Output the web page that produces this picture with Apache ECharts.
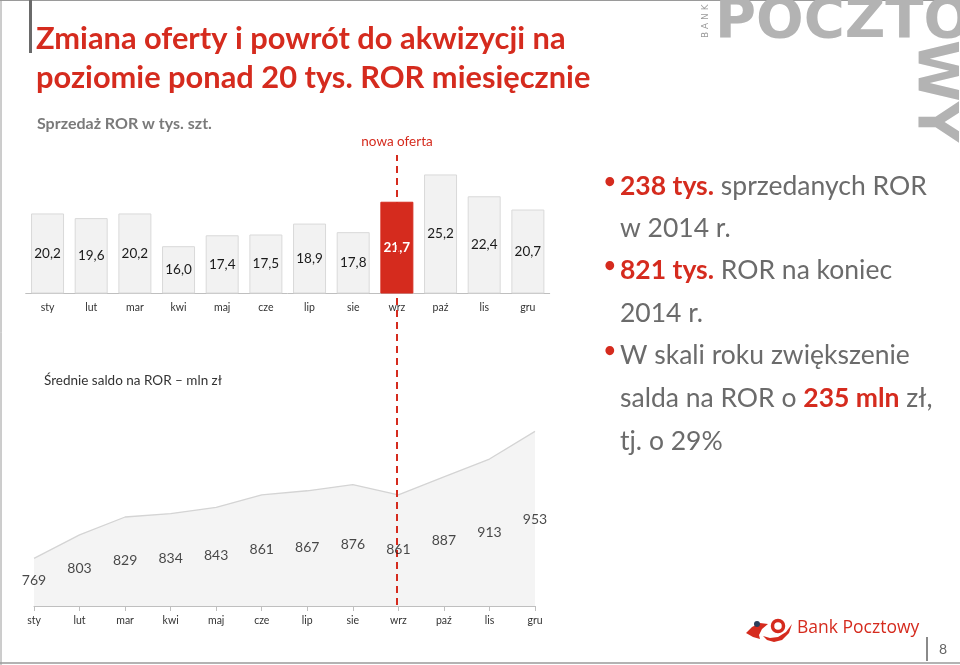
<!DOCTYPE html>
<html><head><meta charset="utf-8">
<script src="https://cdn.jsdelivr.net/npm/echarts@6/dist/echarts.min.js"></script>
<style>html,body{margin:0;padding:0;background:#fff}#c{width:960px;height:665px}</style>
</head><body><div id="c"></div>
<script>
const months = ['sty','lut','mar','kwi','maj','cze','lip','sie','wrz','paź','lis','gru'];
const salesValues = [20.2,19.6,20.2,16.0,17.4,17.5,18.9,17.8,21.7,25.2,22.4,20.7];
const balanceValues = [769,803,829,834,843,861,867,876,861,887,913,953];
const highlightMonth = 'wrz';

const RED = '#d52b1e';
const FONT = 'Lato, "Open Sans", sans-serif';
const fmt1 = v => v.toFixed(1).replace('.', ',');

const chart = echarts.init(document.getElementById('c'), null, {renderer: 'canvas'});

const barData = salesValues.map((v, i) => months[i] === highlightMonth ? {
  value: v,
  itemStyle: {color: RED, borderColor: RED},
  label: {color: '#fff', fontWeight: 'bold'}
} : v);

const catAxisStyle = {
  axisLine: {lineStyle: {color: '#bfbfbf', width: 1}},
  axisTick: {lineStyle: {color: '#bfbfbf'}, length: 4},
  axisLabel: {color: '#333', fontSize: 10.5, fontFamily: FONT}
};

const option = {
  animation: false,
  grid: [
    {left: 25.7, width: 524, top: 137, height: 156},
    {left: 34, width: 501, top: 399, height: 207},
    {left: 25.7, width: 524, top: 155, height: 450}
  ],
  xAxis: [
    Object.assign({type: 'category', gridIndex: 0, data: months, boundaryGap: true}, catAxisStyle,
      {axisLabel: Object.assign({}, catAxisStyle.axisLabel, {margin: 9})}),
    Object.assign({type: 'category', gridIndex: 1, data: months, boundaryGap: false}, catAxisStyle,
      {axisTick: {lineStyle: {color: '#bfbfbf'}, length: 5, alignWithLabel: true},
       axisLabel: Object.assign({}, catAxisStyle.axisLabel, {margin: 9})}),
    {type: 'category', gridIndex: 2, data: months, boundaryGap: true, show: false}
  ],
  yAxis: [
    {type: 'value', gridIndex: 0, min: 10, max: 30, show: false},
    {type: 'value', gridIndex: 1, min: 700, max: 1000, show: false},
    {type: 'value', gridIndex: 1, min: 690.6, max: 1315, show: false},
    {type: 'value', gridIndex: 2, min: 0, max: 1, show: false}
  ],
  series: [
    {
      type: 'bar', xAxisIndex: 0, yAxisIndex: 0, data: barData, barWidth: 33,
      itemStyle: {color: '#f2f2f2', borderColor: '#d9d9d9', borderWidth: 1},
      label: {show: true, position: 'inside', formatter: p => fmt1(p.value),
              color: '#1a1a1a', fontSize: 13.5, fontFamily: FONT}
    },
    {
      type: 'line', xAxisIndex: 1, yAxisIndex: 1, data: balanceValues, symbol: 'none',
      lineStyle: {color: '#d4d4d4', width: 1.3},
      areaStyle: {color: '#f4f4f4', opacity: 1}
    },
    {
      type: 'scatter', xAxisIndex: 1, yAxisIndex: 2, data: balanceValues, symbolSize: 2, z: 5,
      itemStyle: {color: 'rgba(0,0,0,0)'},
      label: {show: true, position: 'inside', formatter: p => String(p.value),
              color: '#1a1a1a', fontSize: 14, fontFamily: FONT}
    },
    {
      type: 'line', xAxisIndex: 2, yAxisIndex: 3, data: [], z: 10,
      markLine: {
        silent: true, symbol: 'none', label: {show: false},
        lineStyle: {color: RED, type: [7, 5], width: 2},
        data: [{xAxis: highlightMonth}]
      }
    }
  ],
  graphic: [
    // frame lines
    {type: 'line', shape: {x1: 0, y1: 0.5, x2: 960, y2: 0.5}, style: {stroke: '#9a9a9a', lineWidth: 1}},
    {type: 'line', shape: {x1: 1, y1: 0, x2: 1, y2: 665}, style: {stroke: '#9a9a9a', lineWidth: 1}},
    {type: 'line', shape: {x1: 0, y1: 663, x2: 960, y2: 663}, style: {stroke: '#9a9a9a', lineWidth: 1.5}},
    {type: 'rect', shape: {x: 29, y: 0, width: 3, height: 53}, style: {fill: '#6a6a6a'}},
    // title
    {type: 'text', x: 36, y: 39, style: {text: 'Zmiana oferty i powrót do akwizycji na', fill: RED,
      font: 'bold 30.8px ' + FONT, textVerticalAlign: 'middle'}},
    {type: 'text', x: 36, y: 78, style: {text: 'poziomie ponad 20 tys. ROR miesięcznie', fill: RED,
      font: 'bold 30.8px ' + FONT, textVerticalAlign: 'middle'}},
    {type: 'text', x: 37, y: 124, style: {text: 'Sprzedaż ROR w tys. szt.', fill: '#7a7a7a',
      font: 'bold 16px ' + FONT, textVerticalAlign: 'middle'}},
    {type: 'text', x: 397, y: 142, style: {text: 'nowa oferta', fill: RED,
      font: '13.5px ' + FONT, textAlign: 'center', textVerticalAlign: 'middle'}},
    {type: 'text', x: 44, y: 381, style: {text: 'Średnie saldo na ROR – mln zł', fill: '#333',
      font: '13.5px ' + FONT, textVerticalAlign: 'middle'}},
    // right bullets
    {type: 'text', x: 604, y: 182, style: {text: '•', fill: RED, font: 'bold 20px ' + FONT, textVerticalAlign: 'middle'}},
    {type: 'text', x: 604, y: 266, style: {text: '•', fill: RED, font: 'bold 20px ' + FONT, textVerticalAlign: 'middle'}},
    {type: 'text', x: 604, y: 351, style: {text: '•', fill: RED, font: 'bold 20px ' + FONT, textVerticalAlign: 'middle'}},
    {type: 'text', x: 620, y: 186, style: {text: '{r|238 tys.} sprzedanych ROR', fill: '#6b6b6b',
      font: '26.5px ' + FONT, textVerticalAlign: 'middle', rich: {r: {fill: RED, font: 'bold 26.5px ' + FONT}}}},
    {type: 'text', x: 620, y: 228, style: {text: 'w 2014 r.', fill: '#6b6b6b', font: '26.5px ' + FONT, textVerticalAlign: 'middle'}},
    {type: 'text', x: 620, y: 270, style: {text: '{r|821 tys.} ROR na koniec', fill: '#6b6b6b',
      font: '26.5px ' + FONT, textVerticalAlign: 'middle', rich: {r: {fill: RED, font: 'bold 26.5px ' + FONT}}}},
    {type: 'text', x: 620, y: 313, style: {text: '2014 r.', fill: '#6b6b6b', font: '26.5px ' + FONT, textVerticalAlign: 'middle'}},
    {type: 'text', x: 620, y: 355, style: {text: 'W skali roku zwiększenie', fill: '#6b6b6b', font: '26.5px ' + FONT, textVerticalAlign: 'middle'}},
    {type: 'text', x: 620, y: 398, style: {text: 'salda na ROR o {r|235 mln} zł,', fill: '#6b6b6b',
      font: '26.5px ' + FONT, textVerticalAlign: 'middle', rich: {r: {fill: RED, font: 'bold 26.5px ' + FONT}}}},
    {type: 'text', x: 620, y: 441, style: {text: 'tj. o 29%', fill: '#6b6b6b', font: '26.5px ' + FONT, textVerticalAlign: 'middle'}},
    // top-right logo
    {type: 'text', x: 715, y: -6, style: {text: 'POCZTO', fill: '#b3b3b3',
      font: 'bold 56px "DejaVu Sans"', textVerticalAlign: 'top'}},
    {type: 'text', x: 962, y: 40, rotation: -Math.PI / 2, style: {text: 'WY', fill: '#b3b3b3',
      font: 'bold 56px "DejaVu Sans"', textVerticalAlign: 'top'}},
    {type: 'text', x: 701, y: 38, rotation: Math.PI / 2, style: {text: 'B A N K', fill: '#9a9a9a',
      font: '9px "DejaVu Sans"', textVerticalAlign: 'top'}},
    // bottom-right logo
    {type: 'polygon', shape: {points: [[746,633],[752,627],[760,623],[768,624],[762,629],[759,635],[760,639],[753,637]]}, style: {fill: RED}},
    {type: 'circle', shape: {cx: 778, cy: 626, r: 5.5}, style: {fill: 'none', stroke: RED, lineWidth: 3.5}},
    {type: 'polygon', shape: {points: [[763,636],[770,638],[778,637],[786,632],[792,624],[789,633],[782,640],[774,642],[767,640]]}, style: {fill: RED}},
    {type: 'circle', shape: {cx: 757, cy: 624, r: 3}, style: {fill: '#2b3d5a'}},
    {type: 'text', x: 797, y: 628, style: {text: 'Bank Pocztowy', fill: RED, font: '17.5px "Open Sans", sans-serif', textVerticalAlign: 'middle'}},
    {type: 'line', shape: {x1: 927, y1: 637, x2: 927, y2: 661}, style: {stroke: '#8a8a8a', lineWidth: 2}},
    {type: 'text', x: 943, y: 649, style: {text: '8', fill: '#666', font: '14px ' + FONT, textAlign: 'center', textVerticalAlign: 'middle'}}
  ]
};
chart.setOption(option);
</script></body></html>
